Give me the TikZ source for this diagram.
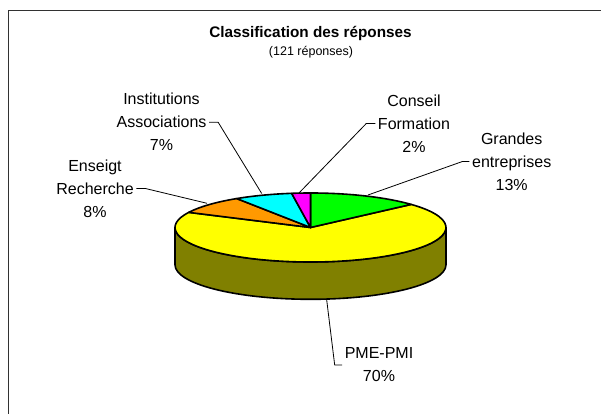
\documentclass[tikz,border=0pt]{standalone}
\usepackage{fontspec}
\setmainfont{Liberation Sans}
\definecolor{pieyellow}{RGB}{255,255,0}
\definecolor{pieolive}{RGB}{128,128,0}
\definecolor{piegreen}{RGB}{0,255,0}
\definecolor{piecyan}{RGB}{0,255,255}
\definecolor{piemagenta}{RGB}{255,0,255}
\definecolor{pieorange}{RGB}{255,153,0}
\definecolor{framegray}{RGB}{50,50,50}
\begin{document}
\begin{tikzpicture}[x=1pt,y=1pt,
  lbl/.style={align=center,inner sep=2.5pt,font=\fontsize{16}{23}\selectfont},
  leader/.style={draw=black,line width=0.8pt},
  slice/.style={draw=black,line width=1.6pt,line join=round}]
\useasboundingbox (0,0) rectangle (601,414);
\fill[white] (0,0) rectangle (601,414);
\draw[line width=1.4pt, draw=framegray] (601,403.3) -- (8.3,403.3) -- (8.3,0);
% titles
\node (title) at (310.5,381) {\fontsize{15.3}{18}\selectfont\bfseries Classification des réponses};
\node (sub) at (311,362) {\fontsize{12.5}{15}\selectfont (121 réponses)};
% pie
\coordinate (C) at (310.5,186.5);
\draw[slice,fill=pieolive] (175,186.5) -- (175,149.2) arc (180:360:135.5 and 34.5) -- (446,186.5) arc (0:-180:135.5 and 34.5) -- cycle;
\draw[slice,fill=pieyellow] (C) -- ++(42:135.5 and 34.5) arc (42:-206:135.5 and 34.5) -- cycle;
\draw[slice,fill=piegreen] (C) -- ++(90:135.5 and 34.5) arc (90:42:135.5 and 34.5) -- cycle;
\draw[slice,fill=pieorange] (C) -- ++(154:135.5 and 34.5) arc (154:123:135.5 and 34.5) -- cycle;
\draw[slice,fill=piecyan] (C) -- ++(123:135.5 and 34.5) arc (123:98:135.5 and 34.5) -- cycle;
\draw[slice,fill=piemagenta] (C) -- ++(98:135.5 and 34.5) arc (98:90:135.5 and 34.5) -- cycle;
% leader end points on the pie
\coordinate (pInst) at (261.7,220.5);
\coordinate (pCons) at (299,221);
\coordinate (pGran) at (368,219);
\coordinate (pEns) at (207,210.7);
\coordinate (pPme) at (326.7,114);
% labels
\node[lbl] (inst) at (161.5,291.8) {Institutions\\Associations\\7\%};
\node[lbl] (cons) at (414,290.5) {Conseil\\Formation\\2\%};
\node[lbl] (gran) at (511.7,252.5) {Grandes\\entreprises\\13\%};
\node[lbl] (ens) at (95,225.5) {Enseigt\\Recherche\\8\%};
\node[lbl] (pme) at (379,49) {PME-PMI\\70\%};
% leaders
\draw[leader] (inst.east) -- ++(9,0) -- (pInst);
\draw[leader] (cons.west) -- ++(-9,0) -- (pCons);
\draw[leader] (gran.west) -- ++(-7,0) -- (pGran);
\draw[leader] (ens.east) -- ++(9,0) -- (pEns);
\draw[leader] (pme.west) -- ++(-7.4,0) -- (pPme);
\end{tikzpicture}
\end{document}
